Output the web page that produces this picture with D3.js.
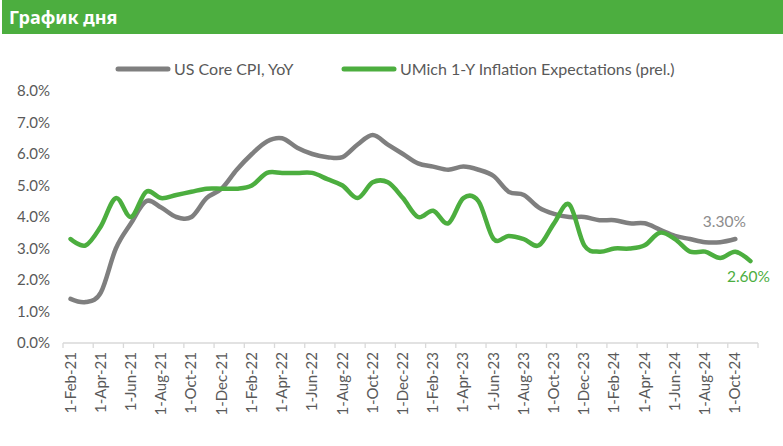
<!DOCTYPE html>
<html>
<head>
<meta charset="utf-8">
<script src="https://cdn.jsdelivr.net/npm/d3@7/dist/d3.min.js"></script>
<style>
  html, body { margin: 0; padding: 0; background: #fff; }
  svg { display: block; }
</style>
</head>
<body>
<svg id="chart" width="783" height="446"></svg>
<script>
const titleText = "График дня";
const seriesNames = ["US Core CPI, YoY", "UMich 1-Y Inflation Expectations (prel.)"];

const categories = [
  "1-Feb-21","1-Mar-21","1-Apr-21","1-May-21","1-Jun-21","1-Jul-21","1-Aug-21","1-Sep-21","1-Oct-21","1-Nov-21","1-Dec-21",
  "1-Jan-22","1-Feb-22","1-Mar-22","1-Apr-22","1-May-22","1-Jun-22","1-Jul-22","1-Aug-22","1-Sep-22","1-Oct-22","1-Nov-22","1-Dec-22",
  "1-Jan-23","1-Feb-23","1-Mar-23","1-Apr-23","1-May-23","1-Jun-23","1-Jul-23","1-Aug-23","1-Sep-23","1-Oct-23","1-Nov-23","1-Dec-23",
  "1-Jan-24","1-Feb-24","1-Mar-24","1-Apr-24","1-May-24","1-Jun-24","1-Jul-24","1-Aug-24","1-Sep-24","1-Oct-24","1-Nov-24"
];

// US Core CPI YoY, % (Feb-21 .. Oct-24)
const coreCPI = [
  1.4, 1.3, 1.6, 3.0, 3.8, 4.5, 4.3, 4.0, 4.0, 4.6, 4.9,
  5.5, 6.0, 6.4, 6.5, 6.2, 6.0, 5.9, 5.9, 6.3, 6.6, 6.3, 6.0,
  5.7, 5.6, 5.5, 5.6, 5.5, 5.3, 4.8, 4.7, 4.3, 4.1, 4.0, 4.0,
  3.9, 3.9, 3.8, 3.8, 3.6, 3.4, 3.3, 3.2, 3.2, 3.3
];

// UMich 1-Y inflation expectations (prelim), % (Feb-21 .. Nov-24)
const umich = [
  3.3, 3.1, 3.7, 4.6, 4.0, 4.8, 4.6, 4.7, 4.8, 4.9, 4.9,
  4.9, 5.0, 5.4, 5.4, 5.4, 5.4, 5.2, 5.0, 4.6, 5.1, 5.1, 4.6,
  4.0, 4.2, 3.8, 4.6, 4.5, 3.3, 3.4, 3.3, 3.1, 3.8, 4.4, 3.1,
  2.9, 3.0, 3.0, 3.1, 3.5, 3.3, 2.9, 2.9, 2.7, 2.9, 2.6
];

const yTicks = [0, 1, 2, 3, 4, 5, 6, 7, 8];
const endLabels = ["3.30%", "2.60%"];

const colors = { green: "#4cae3f", gray: "#7f7f7f", axis: "#d9d9d9", text: "#595959" };
const font = "Lato, 'Open Sans', sans-serif";

const svg = d3.select("#chart");

// Header band
svg.append("rect").attr("x", 2).attr("y", 0).attr("width", 781).attr("height", 34).attr("fill", colors.green);
svg.append("text").attr("x", 9).attr("y", 24)
  .attr("fill", "#fff").attr("font-family", "'Noto Sans', 'DejaVu Sans', sans-serif")
  .attr("font-weight", "bold").attr("font-size", 18).text(titleText);

const plot = { left: 63, right: 758, top: 91, bottom: 343 };

const x = d3.scaleBand().domain(categories).range([plot.left, plot.right]).paddingInner(0).paddingOuter(0);
const y = d3.scaleLinear().domain([0, 8]).range([plot.bottom, plot.top]);
const cx = c => x(c) + x.bandwidth() / 2;

// Y axis labels
const yAxis = d3.axisLeft(y).tickValues(yTicks).tickSize(0).tickPadding(0).tickFormat(d => d3.format(".1f")(d) + "%");
const gy = svg.append("g").attr("transform", `translate(50,0)`).call(yAxis);
gy.select(".domain").remove();
gy.selectAll("text").attr("font-family", font).attr("font-size", 15).attr("fill", colors.text);

// X axis
const tickCats = categories.filter((d, i) => i % 2 === 0);
const gx = svg.append("g").attr("transform", `translate(0,${plot.bottom})`);
gx.append("line").attr("x1", plot.left).attr("x2", plot.right).attr("y1", 0).attr("y2", 0)
  .attr("stroke", colors.axis).attr("stroke-width", 1.3);
const tickPos = tickCats.map(c => x(c)).concat([plot.right]);
gx.selectAll("line.tick").data(tickPos).join("line").attr("class", "tick")
  .attr("x1", d => d).attr("x2", d => d).attr("y1", 0).attr("y2", 5)
  .attr("stroke", colors.axis).attr("stroke-width", 1.3);
gx.selectAll("text.lbl").data(tickCats).join("text").attr("class", "lbl")
  .attr("transform", d => `translate(${cx(d) + 5},9) rotate(-90)`)
  .attr("text-anchor", "end")
  .attr("font-family", font).attr("font-size", 15).attr("fill", colors.text)
  .text(d => d);

// Lines
const line = d3.line().x(d => cx(d.c)).y(d => y(d.v)).curve(d3.curveCatmullRom.alpha(0));
const cpiData = coreCPI.map((v, i) => ({ c: categories[i], v }));
const umData = umich.map((v, i) => ({ c: categories[i], v }));

svg.append("path").datum(cpiData).attr("d", line).attr("fill", "none")
  .attr("stroke", colors.gray).attr("stroke-width", 4.5).attr("stroke-linecap", "round").attr("stroke-linejoin", "round");
svg.append("path").datum(umData).attr("d", line).attr("fill", "none")
  .attr("stroke", colors.green).attr("stroke-width", 4.5).attr("stroke-linecap", "round").attr("stroke-linejoin", "round");

// End labels
const lastCpi = cpiData[cpiData.length - 1];
const lastUm = umData[umData.length - 1];
svg.append("text").attr("x", cx(lastCpi.c) - 11).attr("y", y(lastCpi.v) - 12)
  .attr("text-anchor", "middle").attr("font-family", font).attr("font-size", 15.5)
  .attr("fill", "#8c8c8c").text(endLabels[0]);
svg.append("text").attr("x", cx(lastUm.c) - 2).attr("y", y(lastUm.v) + 21)
  .attr("text-anchor", "middle").attr("font-family", font).attr("font-size", 15.5)
  .attr("fill", colors.green).text(endLabels[1]);

// Legend
const legend = [
  { name: seriesNames[0], color: colors.gray, x: 118 },
  { name: seriesNames[1], color: colors.green, x: 344 }
];
const lg = svg.append("g");
legend.forEach(d => {
  lg.append("line").attr("x1", d.x).attr("x2", d.x + 50).attr("y1", 69).attr("y2", 69)
    .attr("stroke", d.color).attr("stroke-width", 5).attr("stroke-linecap", "round");
  lg.append("text").attr("x", d.x + 56).attr("y", 74.5)
    .attr("font-family", font).attr("font-size", 16).attr("fill", colors.text).text(d.name);
});
</script>
</body>
</html>
